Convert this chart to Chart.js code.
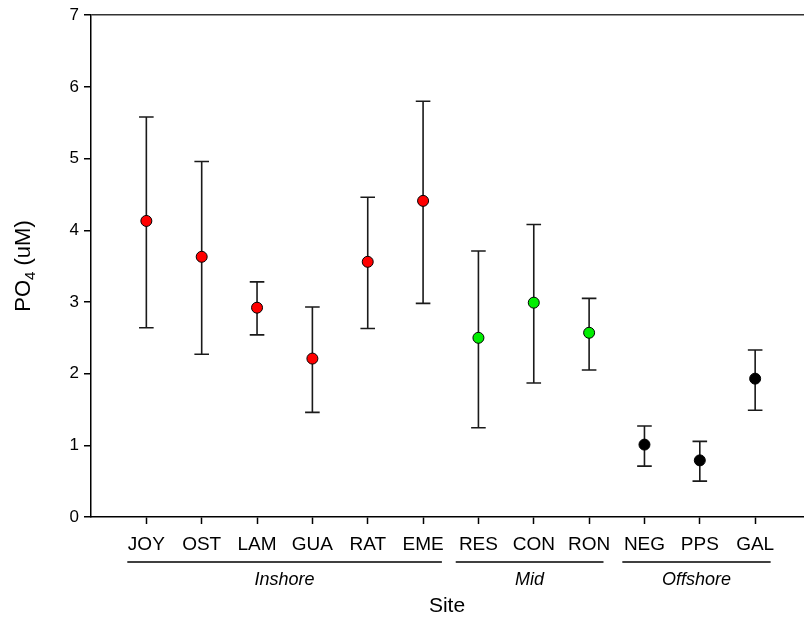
<!DOCTYPE html>
<html>
<head>
<meta charset="utf-8">
<script src="https://cdn.jsdelivr.net/npm/chart.js@4/dist/chart.umd.min.js"></script>
<style>
  html, body { margin: 0; padding: 0; background: #fff; overflow: hidden; width: 804px; height: 627px; }
  #wrap { width: 817px; height: 627px; position: relative; }
</style>
</head>
<body>
<div id="wrap"><canvas id="c"></canvas></div>
<script>
// ---- data ----
const categories = ['JOY','OST','LAM','GUA','RAT','EME','RES','CON','RON','NEG','PPS','GAL'];
const zones      = ['Inshore','Inshore','Inshore','Inshore','Inshore','Inshore','Mid','Mid','Mid','Offshore','Offshore','Offshore'];
const means      = [4.13, 3.63, 2.92, 2.21, 3.56, 4.41, 2.50, 2.99, 2.57, 1.01, 0.79, 1.93];
const upperVals  = [5.58, 4.96, 3.28, 2.93, 4.46, 5.80, 3.71, 4.08, 3.05, 1.27, 1.055, 2.33];
const lowerVals  = [2.64, 2.27, 2.54, 1.46, 2.63, 2.98, 1.245, 1.87, 2.05, 0.71, 0.50, 1.49];
const groupNames = ['Inshore','Mid','Offshore'];
const yTickValues = [0,1,2,3,4,5,6,7];
const xTitle = 'Site';
const yTitleMain = 'PO';
const yTitleSub = '4';
const yTitleTail = ' (uM)';

// ---- styles ----
const FONT = '"Liberation Sans", Arial, Helvetica, sans-serif';
const zoneColors = { 'Inshore': '#ff0000', 'Mid': '#00ee00', 'Offshore': '#000000' };
// group underline extents, in category units relative to first/last member
const groupPad = { 'Inshore': [0.344, 0.34], 'Mid': [0.41, 0.26], 'Offshore': [0.40, 0.28] };

const points = categories.map((c, i) => ({ x: i + 1, y: means[i] }));

const errorBars = {
  id: 'errorBars',
  beforeDatasetsDraw(chart) {
    const { ctx, scales: { x, y } } = chart;
    ctx.save();
    ctx.strokeStyle = '#1a1a1a';
    ctx.lineWidth = 1.6;
    const cap = 7.3;
    categories.forEach((c, i) => {
      const px = x.getPixelForValue(i + 1);
      const yu = y.getPixelForValue(upperVals[i]);
      const yl = y.getPixelForValue(lowerVals[i]);
      ctx.beginPath();
      ctx.moveTo(px, yu); ctx.lineTo(px, yl);
      ctx.moveTo(px - cap, yu); ctx.lineTo(px + cap, yu);
      ctx.moveTo(px - cap, yl); ctx.lineTo(px + cap, yl);
      ctx.stroke();
    });
    ctx.restore();
  }
};

const annotations = {
  id: 'annotations',
  afterDraw(chart) {
    const { ctx, scales: { x } } = chart;
    ctx.save();
    ctx.fillStyle = '#000';
    ctx.strokeStyle = '#000';
    // group underlines + labels
    groupNames.forEach(g => {
      const idx = zones.map((z, i) => z === g ? i : -1).filter(i => i >= 0);
      const first = idx[0] + 1, last = idx[idx.length - 1] + 1;
      const pad = groupPad[g];
      const x0 = x.getPixelForValue(first - pad[0]);
      const x1 = x.getPixelForValue(last + pad[1]);
      ctx.lineWidth = 1.3;
      ctx.beginPath();
      ctx.moveTo(x0, 562); ctx.lineTo(x1, 562);
      ctx.stroke();
      ctx.font = 'italic 18px ' + FONT;
      ctx.textAlign = 'center';
      ctx.textBaseline = 'middle';
      ctx.fillText(g, (x0 + x1) / 2, 580);
    });
    // x title
    ctx.font = '21px ' + FONT;
    ctx.textAlign = 'center';
    ctx.textBaseline = 'middle';
    ctx.fillText(xTitle, 447, 606);
    // y title (rotated, with subscript)
    const mainFont = '22px ' + FONT, subFont = '15px ' + FONT;
    ctx.font = mainFont; const w1 = ctx.measureText(yTitleMain).width;
    ctx.font = subFont;  const w2 = ctx.measureText(yTitleSub).width;
    ctx.font = mainFont; const w3 = ctx.measureText(yTitleTail).width;
    const total = w1 + w2 + w3;
    ctx.translate(24, 266);
    ctx.rotate(-Math.PI / 2);
    ctx.textAlign = 'left';
    ctx.textBaseline = 'middle';
    let cx = -total / 2;
    ctx.font = mainFont; ctx.fillText(yTitleMain, cx, 0); cx += w1;
    ctx.font = subFont;  ctx.fillText(yTitleSub, cx, 7); cx += w2;
    ctx.font = mainFont; ctx.fillText(yTitleTail, cx, 0);
    ctx.restore();
  }
};

new Chart(document.getElementById('c'), {
  type: 'scatter',
  data: {
    datasets: [{
      data: points,
      pointRadius: 5.5,
      pointHoverRadius: 5.5,
      pointBackgroundColor: zones.map(z => zoneColors[z]),
      pointBorderColor: '#000',
      pointBorderWidth: 1,
      showLine: false
    }]
  },
  options: {
    responsive: true,
    maintainAspectRatio: false,
    animation: false,
    events: [],
    layout: { padding: { top: 14, right: 0, left: 0, bottom: 0 } },
    plugins: { legend: { display: false }, tooltip: { enabled: false } },
    scales: {
      x: {
        type: 'linear',
        min: 0,
        max: 13,
        afterBuildTicks: (s) => { s.ticks = categories.map((c, i) => ({ value: i + 1 })); },
        afterFit: (s) => { s.height = 110; },
        ticks: {
          autoSkip: false, maxRotation: 0, minRotation: 0,
          color: '#000',
          font: { family: FONT, size: 19 },
          padding: 9,
          callback: (v) => categories[v - 1]
        },
        grid: { drawOnChartArea: false, tickLength: 7, tickColor: '#000', tickWidth: 1.5, color: '#000' },
        border: { display: true, color: '#000', width: 1.5 }
      },
      y: {
        min: 0,
        max: 7,
        afterBuildTicks: (s) => { s.ticks = yTickValues.map(v => ({ value: v })); },
        afterFit: (s) => { s.width = 91; },
        ticks: {
          color: '#000',
          font: { family: FONT, size: 17 },
          padding: 5,
          callback: (v) => String(v)
        },
        grid: {
          drawOnChartArea: true,
          color: (ctx) => (ctx.tick && ctx.tick.value === 7) ? '#333' : 'rgba(0,0,0,0)',
          lineWidth: 1.5,
          tickLength: 7,
          tickColor: '#000',
          tickWidth: 1.5
        },
        border: { display: true, color: '#000', width: 1.5 }
      }
    }
  },
  plugins: [errorBars, annotations]
});
</script>
</body>
</html>
